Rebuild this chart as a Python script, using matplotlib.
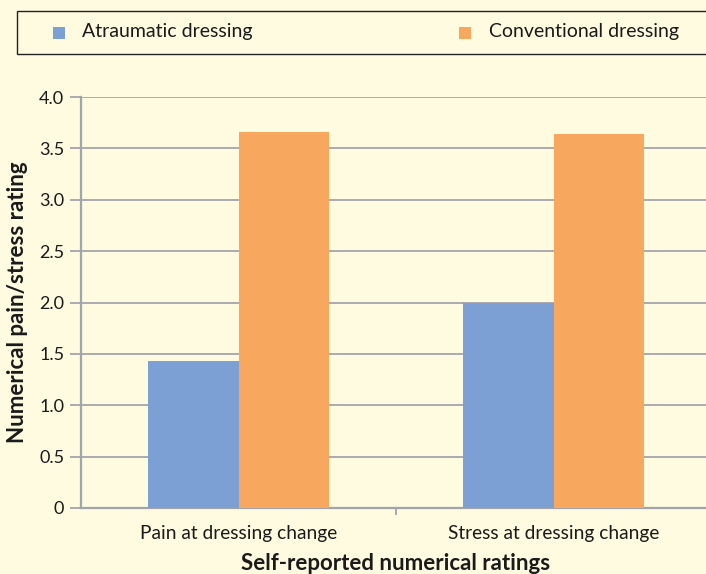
import matplotlib
matplotlib.use("Agg")
import matplotlib.pyplot as plt
import numpy as np
from matplotlib.patches import Rectangle

categories = ["Pain at dressing change", "Stress at dressing change"]
series_names = ["Atraumatic dressing", "Conventional dressing"]
atraumatic = [1.43, 2.0]
conventional = [3.66, 3.64]
y_ticks = [0, 0.5, 1.0, 1.5, 2.0, 2.5, 3.0, 3.5, 4.0]
y_tick_labels = ["0", "0.5", "1.0", "1.5", "2.0", "2.5", "3.0", "3.5", "4.0"]

bg = "#FEFBE0"
blue = "#7C9FD4"
orange = "#F8A75E"
grid_c = "#A3A3AB"
text_c = "#1A1A1A"

plt.rcParams["font.family"] = ["Lato", "DejaVu Sans"]

fig = plt.figure(figsize=(7.06, 5.74), dpi=100, facecolor=bg)
W, H = 706, 574
ax = fig.add_axes([81 / W, 1 - 508 / H, 630 / W, (508 - 97) / H])
ax.set_facecolor(bg)

x = np.arange(len(categories))
bw = 0.286
ax.bar(x - bw / 2, atraumatic, width=bw, color=blue, zorder=3)
ax.bar(x + bw / 2, conventional, width=bw, color=orange, zorder=3)

ax.set_xlim(-0.5, 1.5)
ax.set_ylim(0, 4.0)
ax.set_yticks(y_ticks)
ax.set_yticklabels(y_tick_labels, fontsize=13, color=text_c)
ax.yaxis.grid(True, color=grid_c, linewidth=1.3, zorder=1)
ax.tick_params(axis="y", length=8, width=1.3, color=grid_c, pad=4)

ax.set_xticks(x)
ax.set_xticklabels(categories, fontsize=13.8, color=text_c)
ax.tick_params(axis="x", length=0, pad=12)
ax.set_xticks([0.5], minor=True)
ax.tick_params(axis="x", which="minor", length=5, width=1.3, color=grid_c)

for s in ["top", "right"]:
    ax.spines[s].set_visible(False)
for s in ["left", "bottom"]:
    ax.spines[s].set_color(grid_c)
    ax.spines[s].set_linewidth(1.6)

ax.set_ylabel("Numerical pain/stress rating", fontsize=16, fontweight="bold",
              color=text_c, labelpad=8)
ax.set_xlabel("Self-reported numerical ratings", fontsize=16, fontweight="bold",
              color=text_c, labelpad=8)

# Legend strip across the top
fig.patches.append(Rectangle((17 / W, 1 - 54 / H), 700 / W, 43 / H,
                             transform=fig.transFigure, facecolor=bg,
                             edgecolor="#222222", linewidth=1.0))
fig.patches.append(Rectangle((53 / W, 1 - 39 / H), 12 / W, 12 / H,
                             transform=fig.transFigure, facecolor=blue,
                             edgecolor="none"))
fig.text(82 / W, 1 - 32 / H, series_names[0], fontsize=14, color=text_c,
         va="center", ha="left")
fig.patches.append(Rectangle((459 / W, 1 - 39 / H), 12 / W, 12 / H,
                             transform=fig.transFigure, facecolor=orange,
                             edgecolor="none"))
fig.text(489 / W, 1 - 32 / H, series_names[1], fontsize=14, color=text_c,
         va="center", ha="left")

fig.savefig("out.png", dpi=100, facecolor=bg)
